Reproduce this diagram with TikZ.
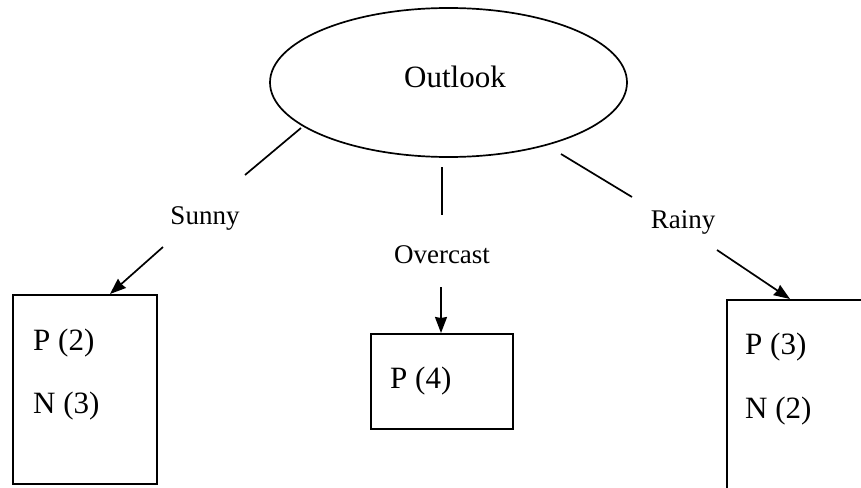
\documentclass[tikz,border=0pt]{standalone}
\usepackage{fontspec}
\setmainfont{Liberation Serif}
\usetikzlibrary{shapes.geometric,arrows.meta}
\begin{document}
\begin{tikzpicture}[x=1pt,y=-1pt,
  conn/.style={line width=1.7pt},
  arr/.style={conn,-{Stealth[length=16pt,width=12pt,inset=1pt]}},
  leafbox/.style={draw,line width=1.7pt,rectangle,inner sep=0pt,anchor=north west},
  big/.style={font=\rmfamily\fontsize{31}{36}\selectfont},
  lab/.style={font=\rmfamily\fontsize{27}{32}\selectfont,anchor=base,inner sep=0pt},
  val/.style={big,anchor=base west,inner sep=0pt}]
\useasboundingbox (0,0) rectangle (861,487);
\fill[white] (0,0) rectangle (861,487);
\clip (0,0) rectangle (861,487);
% root
\node[draw,ellipse,line width=1.7pt,minimum width=357pt,minimum height=149pt,inner sep=0pt] (outlook) at (448.5,82.5) {};
\node[big,anchor=base,inner sep=0pt] (outlooktext) at (455,87) {Outlook};
% leaves
\node[leafbox,minimum width=144pt,minimum height=189pt] (sunnyleaf) at (12,294) {};
\node[leafbox,minimum width=142pt,minimum height=95pt] (overleaf) at (370,333) {};
\node[leafbox,minimum width=170pt,minimum height=210pt] (rainyleaf) at (726,299) {};
\node[val] (p2) at (33,350) {P (2)};
\node[val] (n3) at (33,413) {N (3)};
\node[val] (p4) at (390,388) {P (4)};
\node[val] (p3) at (745,354) {P (3)};
\node[val] (n2) at (745,418) {N (2)};
% branch labels
\node[lab] (sunny) at (205,224) {Sunny};
\node[lab] (overcast) at (442,263) {Overcast};
\node[lab] (rainy) at (683,228) {Rainy};
% connectors
\coordinate (s1) at (301,128);
\coordinate (s2) at (245,175);
\coordinate (s3) at (163,247);
\coordinate (st) at (110,294);
\coordinate (o1) at (442,167);
\coordinate (o2) at (442,215);
\coordinate (o3) at (441,287);
\coordinate (ot) at (441,333);
\coordinate (r1) at (561,154);
\coordinate (r2) at (632,197);
\coordinate (r3) at (717,250);
\coordinate (rt) at (790,299);
\draw[conn] (s1) -- (s2);
\draw[arr] (s3) -- (st);
\draw[conn] (o1) -- (o2);
\draw[arr] (o3) -- (ot);
\draw[conn] (r1) -- (r2);
\draw[arr] (r3) -- (rt);
\end{tikzpicture}
\end{document}
